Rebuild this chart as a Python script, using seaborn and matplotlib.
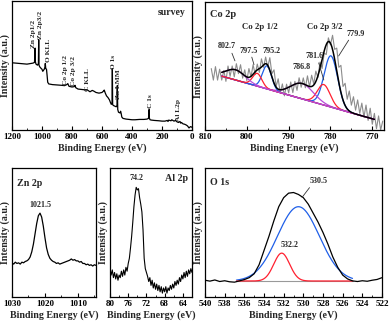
import numpy as np
import matplotlib
matplotlib.use("Agg")
import matplotlib.pyplot as plt
import seaborn as sns
from matplotlib.ticker import MultipleLocator, NullLocator

# ---------------- survey spectrum ----------------
survey_be = [1200, 1150, 1100, 1060, 1050, 1046, 1044, 1040, 1030, 1024, 1022, 1020, 1015,
             1005, 1000, 995, 990, 985, 980, 978, 975, 970, 966, 962, 955, 930, 900, 870,
             850, 835, 828, 820, 800, 785, 780, 775, 760, 740, 720, 700, 690, 680, 665,
             655, 640, 620, 600, 590, 585, 578, 570, 560, 550, 545, 538, 533, 531, 529,
             525, 515, 505, 500, 498, 495, 490, 480, 476, 472, 468, 460, 440, 420, 400,
             380, 350, 320, 300, 290, 286, 284, 280, 270, 250, 220, 200, 180, 165, 160,
             155, 140, 135, 120, 110, 100, 90, 80, 75, 70, 60, 50, 40, 30, 20, 10, 0]
survey_int = [197, 195, 193, 196, 198, 240, 200, 193, 190, 195, 265, 190, 185,
              180, 178, 172, 175, 178, 185, 195, 180, 178, 160, 140, 135, 133, 132, 131,
              130, 133, 136, 128, 126, 127, 131, 124, 120, 119, 118, 118, 115, 112, 116,
              114, 110, 108, 110, 114, 117, 108, 100, 95, 88, 82, 75, 80, 180, 75,
              72, 70, 68, 72, 130, 60, 52, 50, 55, 48, 38, 34, 32, 31, 30,
              30, 31, 31, 32, 34, 60, 35, 30, 29, 28, 27, 26, 26, 28, 25,
              29, 27, 30, 26, 28, 24, 22, 25, 20, 22, 18, 17, 15, 12, 6, 10, 8]
survey_labels = ["Zn 2p1/2", "Zn 2p3/2", "O KLL", "Co 2p 1/2", "Co 2p 3/2", "C KLL",
                 "O 1s", "Zn LMM", "C 1s", "Al L2p"]
survey_label_be = [1058, 1012, 955, 842, 790, 697, 525, 487, 277, 93]
survey_label_base = [240, 268, 198, 132, 130, 115, 180, 90, 65, 25]

# ---------------- Co 2p ----------------
co_be = [808.5, 808.0, 807.5, 807.0, 806.5, 806.0, 805.5, 805.0, 804.5, 804.0, 803.5, 803.0,
         802.5, 802.0, 801.5, 801.0, 800.5, 800.0, 799.5, 799.0, 798.5, 798.0, 797.5, 797.0,
         796.5, 796.0, 795.5, 795.0, 794.5, 794.0, 793.5, 793.0, 792.5, 792.0, 791.5, 791.0,
         790.5, 790.0, 789.5, 789.0, 788.5, 788.0, 787.5, 787.0, 786.5, 786.0, 785.5, 785.0,
         784.5, 784.0, 783.5, 783.0, 782.5, 782.0, 781.5, 781.0, 780.5, 780.0, 779.5, 779.0,
         778.5, 778.0, 777.5, 777.0, 776.5, 776.0, 775.5, 775.0, 774.5, 774.0, 773.5, 773.0,
         772.5, 772.0, 771.5, 771.0, 770.5, 770.0, 769.5, 769.0, 768.5, 768.0, 767.5]
co_int = [48, 39, 49.5, 39, 47.5, 39, 46.5, 38, 50, 42, 50, 41.5,
          51.8, 44, 51, 40.5, 47, 38.6, 48, 41.5, 51, 43.3, 51.5, 45,
          55.6, 49, 57, 49, 56.5, 44, 47, 34, 40, 29, 36, 26.7,
          35.8, 29, 37.5, 29.2, 38, 31, 40.8, 33.4, 40.7, 33, 42.3, 33.7,
          42.8, 36, 46, 41, 53, 48, 60, 59, 72, 66.6, 74, 63,
          64, 49, 50.5, 34, 36.5, 24, 30.5, 19.4, 26, 15.5, 23.5, 13,
          21, 10, 19.5, 7.5, 17, 4.5, 13, 1, 11, 0, 7]
# background line end points
co_bg_be = [806.0, 769.5]
co_bg_int = [42.1, 8.3]
# fitted components: centre (eV), height above background, FWHM (eV), colour
co_centres = [779.9, 781.6, 786.8, 795.2, 797.5, 802.7]
co_heights = [40.0, 16.0, 12.0, 18.0, 10.0, 8.0]
co_fwhm = [3.8, 3.6, 6.5, 2.6, 2.6, 5.5]
co_colors = ["#1f5fe8", "#ff2030", "#b84ad8", "#1f5fe8", "#ff2030", "#b84ad8"]
co_label_be = [774.0, 783.9, 787.0, 794.1, 799.5, 804.8]
co_label_y = [75.0, 57.7, 49.0, 62.0, 62.0, 65.5]
co_lead_from = [(775.3, 72.0), (783.0, 54.5), None, None, (799.0, 59.0), (803.8, 62.0)]
co_lead_to = [(778.4, 56.0), (781.4, 37.0), None, None, (798.1, 49.0), (802.6, 52.0)]

# ---------------- Zn 2p ----------------
zn_be = [1030, 1029.5, 1029, 1028.5, 1028, 1027.5, 1027, 1026.5, 1026, 1025.5, 1025, 1024.5,
         1024, 1023.5, 1023, 1022.5, 1022, 1021.5, 1021, 1020.5, 1020, 1019.5, 1019, 1018.5,
         1018, 1017.5, 1017, 1016.5, 1016, 1015.5, 1015, 1014.5, 1014, 1013.5, 1013, 1012.5,
         1012, 1011.5, 1011, 1010.5, 1010, 1009.5, 1009, 1008.5, 1008, 1007.5, 1007, 1006.5,
         1006, 1005.5, 1005, 1004.5]
zn_int = [26.5, 25.5, 27, 26, 26.5, 25.5, 27, 26.5, 27.5, 28, 29, 31,
          35, 41, 49, 57, 63, 65, 62, 55, 46, 38, 33, 30,
          28.5, 27.5, 27, 26, 26.5, 25.5, 26, 26.5, 27, 27.5, 28, 28.5,
          29.5, 28.5, 29, 28, 28, 27, 27.5, 26, 26, 25, 25.5, 24.5,
          25, 24, 25, 24.5]

# ---------------- Al 2p ----------------
al_be = [80.0, 79.75, 79.5, 79.25, 79.0, 78.75, 78.5, 78.25, 78.0, 77.75, 77.5, 77.25,
         77.0, 76.75, 76.5, 76.25, 76.0, 75.75, 75.5, 75.25, 75.0, 74.75, 74.5, 74.25,
         74.0, 73.75, 73.5, 73.25, 73.0, 72.75, 72.5, 72.25, 72.0, 71.75, 71.5, 71.25,
         71.0, 70.75, 70.5, 70.25, 70.0, 69.75, 69.5, 69.25, 69.0, 68.75, 68.5, 68.25,
         68.0, 67.75, 67.5, 67.25, 67.0, 66.75, 66.5, 66.25, 66.0, 65.75, 65.5, 65.25,
         65.0, 64.75, 64.5, 64.25, 64.0, 63.75, 63.5, 63.25, 63.0, 62.75, 62.5, 62.25, 62.0]
al_int = [22, 17, 21, 15, 19, 14, 18, 13, 17, 15, 20, 16,
          21, 17, 23, 20, 26, 30, 38, 47, 58, 70, 79, 85,
          83, 84, 77, 72, 66, 52, 30, 22, 19, 16, 12, 15,
          9, 13, 7, 11, 6, 10, 5, 9, 4, 8, 3, 7,
          4, 8, 3, 7, 5, 9, 6, 10, 7, 12, 9, 13,
          10, 15, 12, 17, 14, 19, 15, 20, 16, 21, 18, 22, 19]

# ---------------- O 1s ----------------
o_be = [540, 539.5, 539, 538.5, 538, 537.5, 537, 536.5, 536, 535.5, 535, 534.5, 534, 533.5,
        533, 532.5, 532, 531.5, 531, 530.5, 530, 529.5, 529, 528.5, 528, 527.5, 527, 526.5,
        526, 525.5, 525, 524.5, 524, 523.5, 523, 522.5, 522]
o_int = [13.0, 12.3, 13.2, 12.0, 12.6, 11.8, 11.5, 12.5, 13.5, 15.0, 18.0, 25.0, 36.0, 47.0,
         59.0, 70.0, 77.0, 80.5, 81.0, 79.5, 77.0, 72.0, 65.0, 58.0, 50.0, 41.0, 31.0, 23.0,
         17.0, 14.0, 12.5, 12.0, 12.6, 12.2, 13.0, 13.6, 15.0]
o_bg_be = [536.8, 525.0]
o_bg_int = [12.4, 12.4]
o_centres = [530.5, 532.2]
o_heights = [57.6, 21.6]
o_fwhm = [5.0, 1.9]
o_colors = ["#1f5fe8", "#ff2030"]

W, H = 389, 327
sns.set_theme(style="white")
plt.rcParams["font.family"] = ["Liberation Serif", "DejaVu Serif"]
plt.rcParams["font.weight"] = "bold"
plt.rcParams["axes.labelweight"] = "bold"

fig = plt.figure(figsize=(W / 100, H / 100), dpi=100)
fig.patch.set_facecolor("white")


def panel(left, top, right, bottom):
    return fig.add_axes([left / W, 1 - bottom / H, (right - left) / W, (bottom - top) / H])


def style(ax, xlim, major, minor, ylim):
    ax.set_xlim(*xlim)
    ax.set_ylim(*ylim)
    ax.xaxis.set_major_locator(MultipleLocator(major))
    ax.xaxis.set_minor_locator(MultipleLocator(minor))
    ax.yaxis.set_major_locator(NullLocator())
    ax.yaxis.set_minor_locator(NullLocator())
    for s in ax.spines.values():
        s.set_color("black")
        s.set_linewidth(0.9)
    ax.tick_params(axis="x", which="major", direction="in", length=3, width=0.8,
                   labelsize=6.5, pad=2.5, colors="black", bottom=True)
    ax.tick_params(axis="x", which="minor", direction="in", length=1.6, width=0.7,
                   bottom=True)
    ax.set_xlabel("Binding Energy (eV)", fontsize=7.2, labelpad=1.5)
    ax.set_ylabel("Intensity (a.u.)", fontsize=7.2, labelpad=1.5)
    ax.set_facecolor("white")


def line(ax, x, y, color, lw, z=2):
    sns.lineplot(x=np.asarray(x, float), y=np.asarray(y, float), ax=ax, color=color,
                 linewidth=lw, sort=False, estimator=None, legend=False, zorder=z)


def peak_profile(e, centre, height, fwhm):
    return height * np.exp(-4 * np.log(2) * ((e - centre) / fwhm) ** 2)


# survey
ax1 = panel(12, 1, 192, 130)
line(ax1, survey_be, survey_int, "black", 0.9)
style(ax1, (1200, 0), 200, 100, (0, 378))
for txt, xb, yb in zip(survey_labels, survey_label_be, survey_label_base):
    ax1.text(xb, yb, txt, rotation=90, ha="center", va="bottom", fontsize=5.3)
ax1.text(133, 343, "survey", ha="center", va="center", fontsize=7)

# Co 2p
ax2 = panel(205, 2, 384, 130)
line(ax2, co_be, co_int, "#8c8c8c", 0.8, z=1)
e_co = np.linspace(co_bg_be[0], co_bg_be[1], 400)
bg_co = np.interp(e_co, co_bg_be[::-1], co_bg_int[::-1])
line(ax2, co_bg_be, co_bg_int, "#b84ad8", 0.9)
envelope = bg_co.copy()
for c, h, w, col in zip(co_centres, co_heights, co_fwhm, co_colors):
    comp = peak_profile(e_co, c, h, w)
    envelope += comp
    line(ax2, e_co, bg_co + comp, col, 0.9)
line(ax2, e_co, envelope, "black", 1.1, z=3)
style(ax2, (810, 767.2), 10, 5, (0, 100))
ax2.text(808.8, 90, "Co 2p", ha="left", va="center", fontsize=7.5)
ax2.text(796.9, 80.5, "Co 2p 1/2", ha="center", va="center", fontsize=6.3)
ax2.text(781.4, 80.5, "Co 2p 3/2", ha="center", va="center", fontsize=6.3)
for c, xb, yb, p0, p1 in zip(co_centres, co_label_be, co_label_y, co_lead_from, co_lead_to):
    ax2.text(xb, yb, f"{c:.1f}", ha="center", va="center", fontsize=5.8)
    if p0 is not None:
        ax2.annotate("", xy=p1, xytext=p0,
                     arrowprops=dict(arrowstyle="-", color="#333333", lw=0.6))

# Zn 2p
ax3 = panel(12, 168, 96, 297)
line(ax3, zn_be, zn_int, "black", 0.9)
style(ax3, (1030, 1004.5), 10, 5, (0, 100))
ax3.text(1028.6, 88, "Zn 2p", ha="left", va="center", fontsize=7.2)
ax3.text(1021.5, 71, "1021.5", ha="center", va="center", fontsize=5.8)

# Al 2p
ax4 = panel(110, 168, 192, 297)
line(ax4, al_be, al_int, "black", 0.8)
style(ax4, (80, 62), 4, 2, (0, 100))
ax4.text(74.2, 92, "74.2", ha="center", va="center", fontsize=5.8)
ax4.text(62.9, 92, "Al 2p", ha="right", va="center", fontsize=7.2)

# O 1s
ax5 = panel(205, 168, 382, 297)
line(ax5, o_be, o_int, "black", 0.9, z=3)
e_o = np.linspace(o_bg_be[0], o_bg_be[1], 300)
bg_o = np.interp(e_o, o_bg_be[::-1], o_bg_int[::-1])
line(ax5, o_bg_be, o_bg_int, "#999999", 0.8, z=1)
for c, h, w, col in zip(o_centres, o_heights, o_fwhm, o_colors):
    line(ax5, e_o, bg_o + peak_profile(e_o, c, h, w), col, 0.9)
style(ax5, (540, 522), 2, 1, (0, 100))
ax5.text(539.5, 89, "O 1s", ha="left", va="center", fontsize=7.2)
ax5.text(528.4, 90, "530.5", ha="center", va="center", fontsize=5.8)
ax5.annotate("", xy=(530.3, 75.5), xytext=(529.2, 86.5),
             arrowprops=dict(arrowstyle="-", color="#333333", lw=0.6))
ax5.text(531.4, 40, "532.2", ha="center", va="center", fontsize=5.8)

fig.savefig("out.png", dpi=100, facecolor="white")
